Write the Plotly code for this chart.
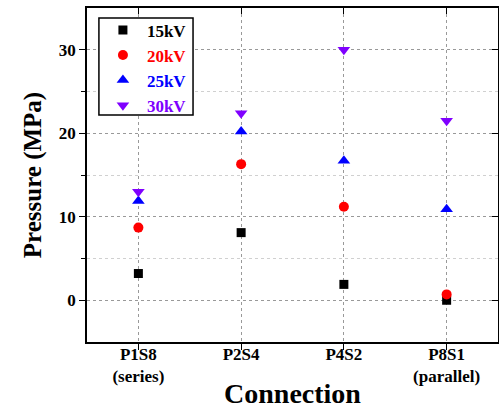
import plotly.graph_objects as go

categories = ["P1S8", "P2S4", "P4S2", "P8S1"]
tick_labels = ["P1S8<br>(series)", "P2S4", "P4S2", "P8S1<br>(parallel)"]
series_names = ["15kV", "20kV", "25kV", "30kV"]
p15 = [3.2, 8.1, 1.9, 0.0]
p20 = [8.7, 16.3, 11.2, 0.7]
p25 = [11.9, 20.2, 16.7, 10.9]
p30 = [13.0, 22.4, 30.0, 21.5]
y_ticks = [0, 10, 20, 30]

colors = ["#000000", "#FF0000", "#0000FF", "#8000FF"]
symbols = ["square", "circle", "triangle-up", "triangle-down"]
sizes = [9, 10, 11, 11]

FONT = "Times New Roman, Liberation Serif, Times, serif"

fig = go.Figure()
for name, vals, c, s, sz in zip(series_names, [p15, p20, p25, p30], colors, symbols, sizes):
    fig.add_trace(go.Scatter(
        x=categories, y=vals, mode="markers",
        name=f"<span style='color:{c}'><b>{name}</b></span>",
        marker=dict(color=c, symbol=s, size=sz, line=dict(width=0)),
    ))

# legend frame (white box with black border)
fig.add_shape(type="rect", xref="paper", yref="paper",
              x0=0.029, x1=0.258, y0=0.680, y1=0.970,
              line=dict(color="black", width=1.5), fillcolor="white", layer="above")

fig.update_layout(
    width=499, height=409,
    margin=dict(l=87, r=1, t=8, b=67),
    paper_bgcolor="white", plot_bgcolor="white",
    font=dict(family=FONT, color="black", size=17),
    showlegend=True,
    legend=dict(
        x=0.029, y=0.987, xanchor="left", yanchor="top",
        borderwidth=0, bgcolor="rgba(0,0,0,0)",
        font=dict(family=FONT, size=17),
        itemwidth=38, tracegroupgap=0,
    ),
    xaxis=dict(
        type="category", range=[-0.5, 3.5], automargin=False,
        tickmode="array", tickvals=categories, ticktext=[f"<b>{t}</b>".replace("<br>", "</b><br><b>") for t in tick_labels],
        tickfont=dict(family=FONT, size=17, color="black"),
        ticklabelstandoff=-10,
        showline=True, linecolor="black", linewidth=1.5,
        ticks="outside", ticklen=6, tickwidth=1.2, tickcolor="black",
        showgrid=True, gridcolor="#999999", griddash="dot", gridwidth=1,
        title=dict(text="<b>Connection</b>", font=dict(family=FONT, size=28), standoff=8),
        zeroline=False,
    ),
    yaxis=dict(
        range=[-5, 35], automargin=False,
        tickmode="array", tickvals=y_ticks, ticktext=[f"<b>{v}</b>" for v in y_ticks],
        tickfont=dict(family=FONT, size=17, color="black"),
        showline=True, linecolor="black", linewidth=1.5,
        ticks="outside", ticklen=6, tickwidth=1.2, tickcolor="black",
        showgrid=True, gridcolor="#999999", griddash="dot", gridwidth=1,
        minor=dict(tickvals=[5, 15, 25], ticks="outside", ticklen=4, tickcolor="black",
                   showgrid=True, gridcolor="#d0d0d0", griddash="dot", gridwidth=1),
        title=dict(text="<b>Pressure (MPa)</b>", font=dict(family=FONT, size=25), standoff=10),
        zeroline=False,
    ),
    xaxis2=dict(
        type="category", overlaying="x", side="top", anchor="y", matches="x",
        range=[-0.5, 3.5], tickmode="array", tickvals=categories,
        showticklabels=False, showline=True, linecolor="black", linewidth=1.5,
        ticks="inside", ticklen=6, tickwidth=1.2, tickcolor="black", showgrid=False,
        zeroline=False,
    ),
    yaxis2=dict(
        overlaying="y", side="right", anchor="x", range=[-5, 35],
        tickvals=y_ticks, showticklabels=False,
        showline=True, linecolor="black", linewidth=1.5,
        ticks="inside", ticklen=6, tickwidth=1.2, tickcolor="black", showgrid=False,
        zeroline=False,
    ),
)

# invisible trace to activate secondary axes
fig.add_trace(go.Scatter(x=[categories[0]], y=[None], xaxis="x2", yaxis="y2",
                         showlegend=False, hoverinfo="skip", mode="markers"))

fig.write_html("out.html")
